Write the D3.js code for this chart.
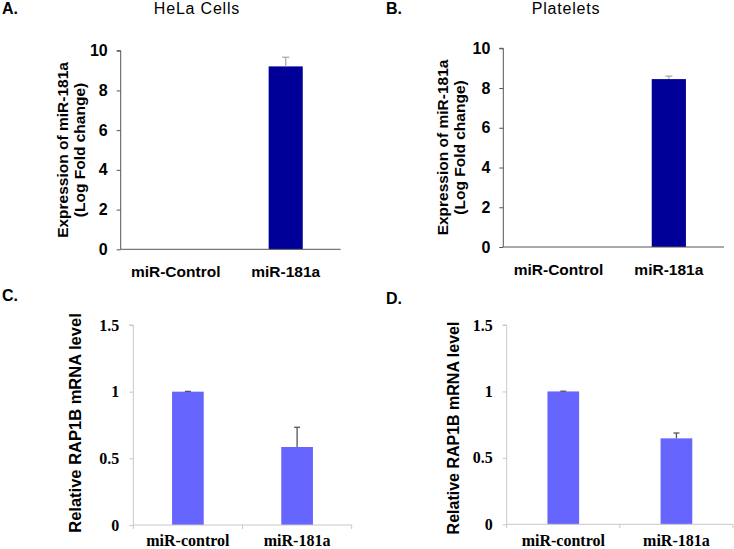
<!DOCTYPE html>
<html>
<head>
<meta charset="utf-8">
<script src="https://cdn.jsdelivr.net/npm/d3@7"></script>
<style>
  html, body { margin: 0; padding: 0; background: #fff; }
  svg { display: block; }
</style>
</head>
<body>
<svg id="chart" width="734" height="549"></svg>
<script>
// ---- Data ----
const expressionCategories = ["miR-Control", "miR-181a"];
const helaExpression = [0, 9.21];
const helaExpressionErr = [0, 0.46];
const plateletExpression = [0, 8.45];
const plateletExpressionErr = [0, 0.15];
const expressionTicks = [0, 2, 4, 6, 8, 10];

const rapCategories = ["miR-control", "miR-181a"];
const helaRap = [1.0, 0.585];
const helaRapErr = [0.002, 0.148];
const plateletRap = [1.0, 0.647];
const plateletRapErr = [0.002, 0.04];
const rapTicks = [0, 0.5, 1, 1.5];

const svg = d3.select("#chart");
const SANS = "Arial, 'Liberation Sans', Helvetica, sans-serif";
const SERIF = "'Times New Roman', 'Liberation Serif', serif";

function panel(cfg) {
  const g = svg.append("g");
  const y = d3.scaleLinear().domain(cfg.domain).range([cfg.y0, cfg.yTop]);
  const x = d3.scaleBand().domain(cfg.categories).range([cfg.x0, cfg.x1]).padding(0);

  const data = cfg.categories.map((c, i) => ({c, v: cfg.values[i], e: cfg.errors[i]}));
  const bw = x.bandwidth() * cfg.barFrac;
  g.selectAll("rect.bar").data(data.filter(d => d.v > 0)).enter().append("rect")
    .attr("x", d => x(d.c) + x.bandwidth() / 2 - bw / 2)
    .attr("y", d => y(d.v))
    .attr("width", bw)
    .attr("height", d => y(0) - y(d.v))
    .attr("fill", cfg.barColor);

  const eb = g.selectAll("g.err").data(data.filter(d => d.v > 0 && d.e > 0)).enter().append("g")
    .attr("stroke", cfg.errColor).attr("stroke-width", 1.3);
  eb.append("line")
    .attr("x1", d => x(d.c) + x.bandwidth() / 2).attr("x2", d => x(d.c) + x.bandwidth() / 2)
    .attr("y1", d => y(d.v)).attr("y2", d => y(d.v + d.e));
  eb.append("line")
    .attr("x1", d => x(d.c) + x.bandwidth() / 2 - cfg.cap / 2)
    .attr("x2", d => x(d.c) + x.bandwidth() / 2 + cfg.cap / 2)
    .attr("y1", d => y(d.v + d.e)).attr("y2", d => y(d.v + d.e));

  const yAxis = d3.axisLeft(y).tickValues(cfg.ticks).tickSize(4).tickPadding(cfg.tickPad)
    .tickFormat(d3.format("~g"));
  const ya = g.append("g").attr("transform", `translate(${cfg.x0},0)`).call(yAxis);
  ya.attr("font-size", null).attr("font-family", null);
  ya.select(".domain").attr("stroke", cfg.axisColor).attr("d", `M-4,${cfg.yTop}H0V${cfg.y0}`);
  ya.selectAll(".tick line").attr("stroke", cfg.axisColor);
  ya.selectAll(".tick text")
    .attr("fill", "#000")
    .style("font-family", cfg.tickFont)
    .style("font-weight", "bold")
    .style("font-size", cfg.tickSize + "px");

  g.append("line").attr("x1", cfg.x0).attr("x2", cfg.x1)
    .attr("y1", cfg.y0).attr("y2", cfg.y0)
    .attr("stroke", cfg.axisColor).attr("stroke-width", 1);
  if (cfg.xTicks) {
    const bounds = [cfg.x0].concat(cfg.categories.map(c => x(c) + x.bandwidth()));
    g.selectAll("line.xt").data(bounds).enter().append("line")
      .attr("x1", d => d).attr("x2", d => d)
      .attr("y1", cfg.y0).attr("y2", cfg.y0 + 4)
      .attr("stroke", cfg.axisColor);
  }

  g.selectAll("text.xl").data(cfg.categories).enter().append("text")
    .attr("x", d => x(d) + x.bandwidth() / 2)
    .attr("y", cfg.xLabelY)
    .attr("text-anchor", "middle")
    .style("font-family", cfg.xFont)
    .style("font-weight", "bold")
    .style("font-size", cfg.xSize + "px")
    .text(d => d);

  const yl = g.append("text")
    .attr("transform", `translate(${cfg.yLabelX},${cfg.yLabelY}) rotate(-90)`)
    .attr("text-anchor", "middle")
    .style("font-family", SANS)
    .style("font-weight", "bold")
    .style("font-size", cfg.yLabelSize + "px");
  cfg.yLabel.forEach((t, i) => {
    yl.append("tspan").attr("x", 0).attr("dy", i === 0 ? 0 : cfg.yLabelGap).text(t);
  });

  g.append("text").attr("x", cfg.letterX).attr("y", cfg.letterY)
    .style("font-family", SANS).style("font-weight", "bold").style("font-size", "16px")
    .text(cfg.letter);
  if (cfg.title) {
    g.append("text").attr("x", cfg.titleX).attr("y", cfg.titleY)
      .attr("text-anchor", "middle")
      .style("font-family", SANS).style("font-size", "16px").style("letter-spacing", "0.8px")
      .text(cfg.title);
  }
}

panel({
  letter: "A.", letterX: 2, letterY: 14, title: "HeLa Cells", titleX: 197, titleY: 14,
  categories: expressionCategories, values: helaExpression, errors: helaExpressionErr,
  domain: [0, 10], ticks: expressionTicks,
  x0: 120.7, x1: 340.7, y0: 249.3, yTop: 50.7,
  barFrac: 0.31, barColor: "#000099", errColor: "#aaaaaa", cap: 7,
  axisColor: "#555", tickFont: SANS, tickSize: 16, tickPad: 9,
  xFont: SANS, xSize: 15.5, xLabelY: 277,
  yLabel: ["Expression of miR-181a", "(Log Fold change)"], yLabelX: 68, yLabelY: 150,
  yLabelSize: 15.5, yLabelGap: 17
});

panel({
  letter: "B.", letterX: 386, letterY: 14, title: "Platelets", titleX: 566, titleY: 14,
  categories: expressionCategories, values: plateletExpression, errors: plateletExpressionErr,
  domain: [0, 10], ticks: expressionTicks,
  x0: 503.3, x1: 724, y0: 247, yTop: 48.3,
  barFrac: 0.31, barColor: "#000099", errColor: "#aaaaaa", cap: 7,
  axisColor: "#555", tickFont: SANS, tickSize: 16, tickPad: 9,
  xFont: SANS, xSize: 15.5, xLabelY: 275,
  yLabel: ["Expression of miR-181a", "(Log Fold change)"], yLabelX: 448, yLabelY: 147.5,
  yLabelSize: 15.5, yLabelGap: 17
});

panel({
  letter: "C.", letterX: 2, letterY: 301,
  categories: rapCategories, values: helaRap, errors: helaRapErr,
  domain: [0, 1.5], ticks: rapTicks,
  x0: 133.3, x1: 351.7, y0: 525, yTop: 325,
  barFrac: 0.29, barColor: "#6666ff", errColor: "#555555", cap: 6,
  axisColor: "#c8c8c8", tickFont: SERIF, tickSize: 16, tickPad: 10, xTicks: true,
  xFont: SERIF, xSize: 16, xLabelY: 546,
  yLabel: ["Relative RAP1B mRNA level"], yLabelX: 81, yLabelY: 423,
  yLabelSize: 16.5, yLabelGap: 0
});

panel({
  letter: "D.", letterX: 386, letterY: 304,
  categories: rapCategories, values: plateletRap, errors: plateletRapErr,
  domain: [0, 1.5], ticks: rapTicks,
  x0: 506.7, x1: 733, y0: 524.3, yTop: 325,
  barFrac: 0.28, barColor: "#6666ff", errColor: "#555555", cap: 6,
  axisColor: "#c8c8c8", tickFont: SERIF, tickSize: 16, tickPad: 10, xTicks: true,
  xFont: SERIF, xSize: 16, xLabelY: 546,
  yLabel: ["Relative RAP1B mRNA level"], yLabelX: 459, yLabelY: 428,
  yLabelSize: 16, yLabelGap: 0
});
</script>
</body>
</html>
